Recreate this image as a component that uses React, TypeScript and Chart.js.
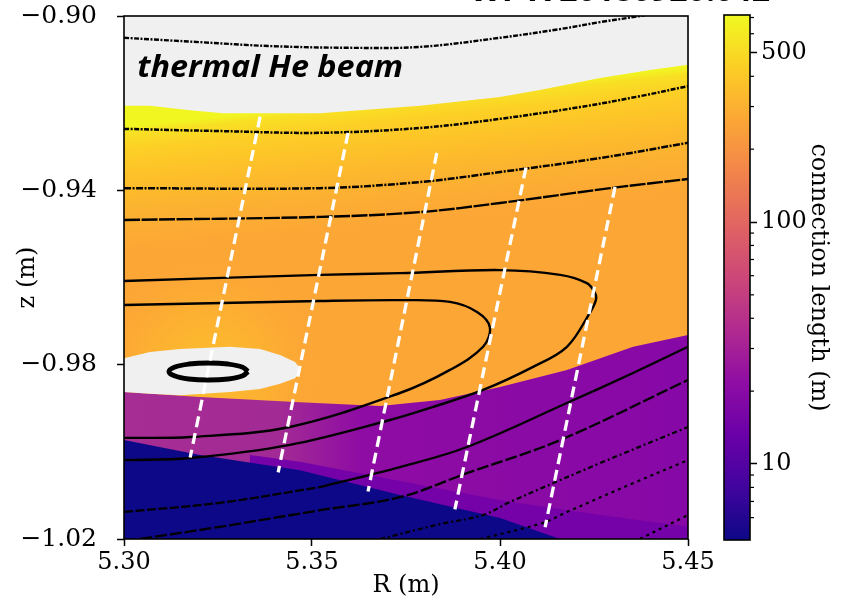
import React, { useEffect, useRef } from 'react';
import { Chart, registerables } from 'chart.js';
Chart.register(...registerables);

type P = [number, number];

// ---- axes / ticks ----
const X_TICKS = [5.30, 5.35, 5.40, 5.45];
const Y_TICKS = [-1.02, -0.98, -0.94, -0.90];
const X_RANGE = [5.30, 5.45];
const Y_RANGE = [-1.02, -0.90];
const CB_RANGE = [4.85, 717];
const CB_TICKS = [10, 100, 500];
const CB_MINOR = [6, 7, 8, 9, 20, 30, 40, 50, 60, 70, 80, 90, 200, 300, 400, 600, 700];

// ---- connection-length regions (R, z) ----
const FULL_AREA: P[] = [[5.30, -0.90], [5.45, -0.90], [5.45, -1.02], [5.30, -1.02]];
const WHITE_TOP_EDGE: P[] = [[5.3000, -0.9206], [5.3069, -0.9206], [5.3176, -0.9216], [5.3263, -0.9223], [5.3521, -0.9223], [5.3787, -0.9206], [5.4000, -0.9186], [5.4106, -0.9170], [5.4266, -0.9142], [5.4399, -0.9124], [5.4500, -0.9112]];
const GLOW_AREA: P[] = [[5.3000, -0.9520], [5.3580, -0.9520], [5.3580, -0.9900], [5.3000, -0.9900]];
const PURPLE_EDGE: P[] = [[5.3000, -0.9863], [5.3202, -0.9874], [5.3468, -0.9886], [5.3681, -0.9895], [5.3840, -0.9881], [5.4000, -0.9851], [5.4178, -0.9812], [5.4354, -0.9759], [5.4500, -0.9732]];
const BAND_EDGE: P[] = [[5.3335, -1.0007], [5.3468, -1.0023], [5.3734, -1.0067], [5.4000, -1.0111], [5.4266, -1.0145], [5.4500, -1.0172]];
const NAVY_EDGE: P[] = [[5.3000, -0.9973], [5.3202, -1.0007], [5.3468, -1.0042], [5.3734, -1.0099], [5.4000, -1.0152], [5.4160, -1.0200]];
const WHITE_BLOB: P[] = [[5.3000, -0.9785], [5.3069, -0.9771], [5.3149, -0.9764], [5.3282, -0.9759], [5.3362, -0.9764], [5.3415, -0.9778], [5.3455, -0.9794], [5.3471, -0.9812], [5.3455, -0.9831], [5.3415, -0.9844], [5.3362, -0.9856], [5.3282, -0.9863], [5.3149, -0.9870], [5.3069, -0.9867], [5.3000, -0.9863]];

// ---- flux contours ----
const CONTOUR_A: P[] = [[5.3000, -0.9050], [5.3202, -0.9060], [5.3388, -0.9069], [5.3601, -0.9073], [5.3787, -0.9071], [5.4000, -0.9050], [5.4160, -0.9030], [5.4266, -0.9014], [5.4372, -0.9000], [5.4426, -0.8990]];
const CONTOUR_B: P[] = [[5.3000, -0.9259], [5.3255, -0.9264], [5.3521, -0.9268], [5.3787, -0.9257], [5.4000, -0.9236], [5.4213, -0.9209], [5.4372, -0.9184], [5.4500, -0.9161]];
const CONTOUR_C: P[] = [[5.3000, -0.9395], [5.3521, -0.9395], [5.3787, -0.9381], [5.4000, -0.9358], [5.4266, -0.9326], [5.4500, -0.9291]];
const CONTOUR_D: P[] = [[5.3000, -0.9468], [5.3521, -0.9461], [5.3787, -0.9450], [5.4000, -0.9429], [5.4293, -0.9395], [5.4500, -0.9374]];
const CONTOUR_E: P[] = [[5.3000, -0.9608], [5.3521, -0.9594], [5.3734, -0.9590], [5.4000, -0.9583], [5.4160, -0.9594], [5.4231, -0.9613], [5.4253, -0.9636], [5.4255, -0.9652], [5.4239, -0.9681], [5.4178, -0.9759], [5.4088, -0.9805], [5.3955, -0.9858], [5.3822, -0.9897], [5.3707, -0.9927], [5.3441, -0.9984], [5.3176, -1.0014], [5.3000, -1.0019]];
const CONTOUR_F: P[] = [[5.3000, -0.9663], [5.3521, -0.9654], [5.3734, -0.9652], [5.3867, -0.9656], [5.3939, -0.9679], [5.3973, -0.9714], [5.3955, -0.9759], [5.3867, -0.9812], [5.3734, -0.9865], [5.3441, -0.9943], [5.3176, -0.9966], [5.3000, -0.9968]];
const CONTOUR_G_LEFT: P[] = [[5.3000, -1.0138], [5.3255, -1.0117], [5.3521, -1.0081]];
const CONTOUR_G: P[] = [[5.3521, -1.0081], [5.3734, -1.0035], [5.3912, -0.9989], [5.4178, -0.9888], [5.4354, -0.9819], [5.4500, -0.9759]];
const CONTOUR_H: P[] = [[5.3043, -1.0200], [5.3255, -1.0172], [5.3521, -1.0134], [5.3734, -1.0104], [5.3912, -1.0049], [5.4160, -0.9973], [5.4500, -0.9835]];
const CONTOUR_I: P[] = [[5.3681, -1.0200], [5.3840, -1.0166], [5.3955, -1.0145], [5.4027, -1.0115], [5.4266, -1.0026], [5.4500, -0.9943]];
const CONTOUR_J: P[] = [[5.3947, -1.0200], [5.4114, -1.0163], [5.4178, -1.0138], [5.4354, -1.0072], [5.4500, -1.0019]];
const CONTOUR_K: P[] = [[5.4372, -1.0200], [5.4500, -1.0145]];
const ISLAND: P[] = [[5.33298, -0.98157], [5.33157, -0.98059], [5.32773, -0.97987], [5.32247, -0.97962], [5.31722, -0.97987], [5.31338, -0.98059], [5.31197, -0.98157], [5.31338, -0.98255], [5.31722, -0.98327], [5.32247, -0.98352], [5.32773, -0.98327], [5.33157, -0.98255], [5.33298, -0.98157]];

// ---- beam lines of sight ----
const BEAM_1: P[] = [[5.3362, -0.9231], [5.3176, -1.0013]];
const BEAM_2: P[] = [[5.3596, -0.9268], [5.3410, -1.0047]];
const BEAM_3: P[] = [[5.3832, -0.9314], [5.3649, -1.0091]];
const BEAM_4: P[] = [[5.4069, -0.9348], [5.3880, -1.0132]];
const BEAM_5: P[] = [[5.4306, -0.9392], [5.4120, -1.0173]];

const ANNOTATION = 'thermal He beam';
const TOP_TEXT = 'W7-X 20180920.042';

const SERIF = "'DejaVu Serif', serif";
const PLASMA = ['#0d0887', '#41049d', '#6a00a8', '#8f0da4', '#b12a90', '#cc4778', '#e16462', '#f2844b', '#fca636', '#fcce25', '#f0f921'];

const pts = (a: P[]) => a.map(([x, y]) => ({ x, y }));

function region(a: P[], color: any, order: number) {
  return { data: pts(a), borderWidth: 0, pointRadius: 0, fill: 'shape', backgroundColor: color, borderColor: 'rgba(0,0,0,0)', tension: 0, order };
}
function contour(a: P[], dash: number[], width: number, order: number, tension = 0.35) {
  return { data: pts(a), borderColor: '#000', borderWidth: width, borderDash: dash, pointRadius: 0, fill: false, tension, order };
}
function beam(a: P[], order: number) {
  return { data: pts(a), borderColor: '#ffffff', borderWidth: 3.3, borderDash: [11, 6], pointRadius: 0, fill: false, tension: 0, order };
}

const ok = (...v: number[]) => v.every((n) => Number.isFinite(n));

const upperGradient = (c: any) => {
  const ch = c.chart;
  const xs = ch.scales?.x, ys = ch.scales?.y;
  if (!xs || !ys || !ch.chartArea) return '#fca636';
  const x0 = xs.getPixelForValue(5.375), y0 = ys.getPixelForValue(-0.9185);
  const x1 = xs.getPixelForValue(5.3785), y1 = ys.getPixelForValue(-0.947);
  if (!ok(x0, y0, x1, y1) || (x0 === x1 && y0 === y1)) return '#fca636';
  const g = ch.ctx.createLinearGradient(x0, y0, x1, y1);
  g.addColorStop(0, '#f1f621');
  g.addColorStop(0.06, '#f8e024');
  g.addColorStop(0.18, '#fdd026');
  g.addColorStop(0.4, '#fdc129');
  g.addColorStop(0.7, '#fcb131');
  g.addColorStop(1, '#fca636');
  return g;
};
const glowGradient = (c: any) => {
  const ch = c.chart;
  const xs = ch.scales?.x, ys = ch.scales?.y;
  if (!xs || !ys || !ch.chartArea) return 'rgba(0,0,0,0)';
  const cx = xs.getPixelForValue(5.3223), cy = ys.getPixelForValue(-0.9816);
  if (!ok(cx, cy)) return 'rgba(0,0,0,0)';
  const g = ch.ctx.createRadialGradient(cx, cy, 20, cx, cy, 115);
  g.addColorStop(0, 'rgba(253,186,46,1)');
  g.addColorStop(0.5, 'rgba(253,180,47,0.6)');
  g.addColorStop(1, 'rgba(252,166,54,0)');
  return g;
};
const purpleGradient = (c: any) => {
  const ch = c.chart;
  const xs = ch.scales?.x;
  if (!xs || !ch.chartArea) return '#8e0ca4';
  const x0 = xs.getPixelForValue(5.30), x1 = xs.getPixelForValue(5.45);
  if (!ok(x0, x1) || x0 === x1) return '#8e0ca4';
  const g = ch.ctx.createLinearGradient(x0, 0, x1, 0);
  g.addColorStop(0, '#a62d93');
  g.addColorStop(0.28, '#a22a95');
  g.addColorStop(0.42, '#8e0ca4');
  g.addColorStop(1, '#8608a6');
  return g;
};

const framePlugin = {
  id: 'frame',
  afterDraw(chart: any) {
    const { ctx, chartArea: a, scales } = chart;
    ctx.save();
    ctx.strokeStyle = '#000';
    ctx.lineWidth = 1.6;
    ctx.strokeRect(a.left, a.top, a.right - a.left, a.bottom - a.top);
    ctx.fillStyle = '#000';
    ctx.font = "italic bold 31px 'Open Sans'";
    ctx.textBaseline = 'alphabetic';
    const tx = scales.x.getPixelForValue(5.3035), ty = scales.y.getPixelForValue(-0.91395);
    const w = ctx.measureText(ANNOTATION).width;
    ctx.translate(tx, ty);
    ctx.scale(266 / w, 1);
    ctx.fillText(ANNOTATION, 0, 0);
    ctx.setTransform(1, 0, 0, 1, 0, 0);
    ctx.font = "bold 30px 'Open Sans'";
    const w2 = ctx.measureText(TOP_TEXT).width;
    ctx.translate(470, 1);
    ctx.scale(300 / w2, 1);
    ctx.fillText(TOP_TEXT, 0, 0);
    ctx.restore();
  },
};

const cbPlugin = {
  id: 'cbar',
  beforeDatasetsDraw(chart: any) {
    const { ctx, chartArea: a } = chart;
    const g = ctx.createLinearGradient(0, a.bottom, 0, a.top);
    PLASMA.forEach((c, i) => g.addColorStop(i / (PLASMA.length - 1), c));
    ctx.save();
    ctx.fillStyle = g;
    ctx.fillRect(a.left, a.top, a.right - a.left, a.bottom - a.top);
    ctx.strokeStyle = '#000';
    ctx.lineWidth = 1.6;
    ctx.strokeRect(a.left, a.top, a.right - a.left, a.bottom - a.top);
    const ys = chart.scales.y;
    ctx.lineWidth = 1.2;
    CB_MINOR.forEach((v) => {
      const y = ys.getPixelForValue(v);
      ctx.beginPath();
      ctx.moveTo(a.right, y);
      ctx.lineTo(a.right + 4, y);
      ctx.stroke();
    });
    ctx.restore();
  },
};

const fmtZ = (v: number) => (v < 0 ? '\u2212' + Math.abs(v).toFixed(2) : v.toFixed(2));

export default function App() {
  const mainRef = useRef<HTMLCanvasElement>(null);
  const cbRef = useRef<HTMLCanvasElement>(null);

  useEffect(() => {
    const dotted = [5, 1.5, 2, 1.5];
    const datasets: any[] = [
      region(FULL_AREA, upperGradient, 100),
      region(GLOW_AREA, glowGradient, 99),
      region([[5.30, -0.90], ...WHITE_TOP_EDGE, [5.45, -0.90]], '#f0f0f0', 98),
      region([...PURPLE_EDGE, [5.45, -1.02], [5.30, -1.02]], purpleGradient, 97),
      region([...BAND_EDGE, [5.45, -1.02], [5.3335, -1.02]], '#7402a8', 96),
      region([...NAVY_EDGE, [5.30, -1.02]], '#0d0887', 95),
      region(WHITE_BLOB, '#f0f0f0', 94),
      contour(CONTOUR_A, dotted, 2.4, 20),
      contour(CONTOUR_B, dotted, 2.5, 19),
      contour(CONTOUR_C, [7, 1.5, 2, 1.5], 2.5, 18),
      contour(CONTOUR_D, [16, 1.5], 2.4, 17),
      contour(CONTOUR_E, [], 2.4, 16),
      contour(CONTOUR_F, [], 2.4, 15),
      contour(CONTOUR_G_LEFT, [9, 2.5], 2.3, 14),
      contour(CONTOUR_G, [], 2.3, 14),
      contour(CONTOUR_H, [12, 3], 2.3, 13),
      contour(CONTOUR_I, [5, 3, 2, 3], 2.2, 12),
      contour(CONTOUR_J, [3, 4], 2.2, 11),
      contour(CONTOUR_K, [3, 4], 2.2, 10),
      contour(ISLAND, [], 5, 9, 0.4),
      beam(BEAM_1, 5),
      beam(BEAM_2, 4),
      beam(BEAM_3, 3),
      beam(BEAM_4, 2),
      beam(BEAM_5, 1),
    ];

    const main = new Chart(mainRef.current as HTMLCanvasElement, {
      type: 'line',
      data: { datasets },
      options: {
        animation: false,
        responsive: false,
        events: [],
        layout: { padding: { left: 0, top: 16, right: 156, bottom: 0 } },
        plugins: { legend: { display: false }, tooltip: { enabled: false } },
        scales: {
          x: {
            type: 'linear',
            min: X_RANGE[0],
            max: X_RANGE[1],
            afterBuildTicks: (s: any) => { s.ticks = X_TICKS.map((v) => ({ value: v })); },
            afterFit: (s: any) => { s.height = 63; s.paddingLeft = 0; s.paddingRight = 0; },
            ticks: { callback: (v: any) => Number(v).toFixed(2), color: '#000', font: { family: SERIF, size: 24 }, padding: 2, maxRotation: 0 },
            grid: { drawOnChartArea: false, tickLength: 7, tickColor: '#000', tickWidth: 1.5 },
            border: { display: false },
            title: { display: true, text: 'R (m)', color: '#000', font: { family: SERIF, size: 24 }, padding: { top: 0, bottom: 2 } },
          },
          y: {
            type: 'linear',
            min: Y_RANGE[0],
            max: Y_RANGE[1],
            afterBuildTicks: (s: any) => { s.ticks = Y_TICKS.map((v) => ({ value: v })); },
            afterFit: (s: any) => { s.width = 124; s.paddingTop = 0; s.paddingBottom = 0; },
            ticks: { callback: (v: any) => fmtZ(Number(v)), color: '#000', font: { family: SERIF, size: 25 }, padding: 20 },
            grid: { drawOnChartArea: false, tickLength: 7, tickColor: '#000', tickWidth: 1.5 },
            border: { display: false },
            title: { display: true, text: 'z (m)', color: '#000', font: { family: SERIF, size: 24 }, padding: { top: 13, bottom: 0 } },
          },
        },
      } as any,
      plugins: [framePlugin],
    });

    const cb = new Chart(cbRef.current as HTMLCanvasElement, {
      type: 'line',
      data: { datasets: [] },
      options: {
        animation: false,
        responsive: false,
        events: [],
        layout: { padding: { left: 724, top: 15, right: 0, bottom: 62 } },
        plugins: { legend: { display: false }, tooltip: { enabled: false } },
        scales: {
          x: { type: 'linear', display: false, min: 0, max: 1 },
          y: {
            type: 'logarithmic',
            position: 'right',
            min: CB_RANGE[0],
            max: CB_RANGE[1],
            afterBuildTicks: (s: any) => { s.ticks = CB_TICKS.map((v) => ({ value: v })); },
            afterFit: (s: any) => { s.width = 94; s.paddingTop = 0; s.paddingBottom = 0; },
            ticks: { callback: (v: any) => String(v), color: '#000', font: { family: SERIF, size: 24 }, padding: 4 },
            grid: { drawOnChartArea: false, tickLength: 7, tickColor: '#000', tickWidth: 1.5 },
            border: { display: false },
            title: { display: true, text: 'connection length (m)', color: '#000', font: { family: SERIF, size: 24 }, padding: { top: 11, bottom: 0 } },
          },
        },
      } as any,
      plugins: [cbPlugin],
    });

    return () => {
      main.destroy();
      cb.destroy();
    };
  }, []);

  return (
    <div style={{ position: 'fixed', left: 0, top: 0, width: 844, height: 602, background: '#ffffff', overflow: 'hidden' }}>
      <canvas ref={mainRef} width={844} height={602} style={{ position: 'absolute', left: 0, top: 0 }} />
      <canvas ref={cbRef} width={844} height={602} style={{ position: 'absolute', left: 0, top: 0 }} />
    </div>
  );
}
